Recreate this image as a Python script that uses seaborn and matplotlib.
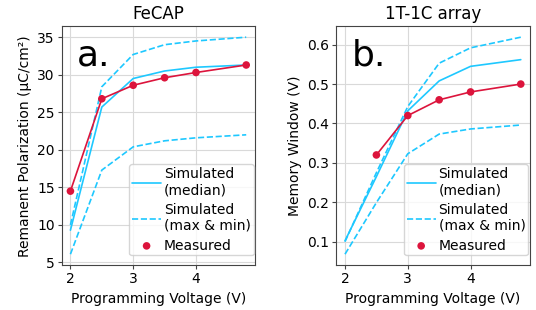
import numpy as np
import pandas as pd
import seaborn as sns
import matplotlib.pyplot as plt

# programming voltages
volts = [2, 2.5, 3, 3.5, 4, 4.8]

# FeCAP remanent polarization (uC/cm2)
fecap_median = [9.3, 25.7, 29.5, 30.5, 31.0, 31.3]
fecap_max = [10.0, 28.4, 32.7, 34.0, 34.5, 35.0]
fecap_min = [6.1, 17.3, 20.4, 21.2, 21.6, 22.0]
fecap_meas = [14.5, 26.8, 28.6, 29.6, 30.3, 31.3]

# 1T-1C memory window (V)
arr_median = [0.102, 0.265, 0.432, 0.508, 0.545, 0.562]
arr_max = [0.100, 0.275, 0.443, 0.553, 0.592, 0.619]
arr_min = [0.068, 0.199, 0.323, 0.373, 0.386, 0.396]
arr_volts_meas = [2.5, 3, 3.5, 4, 4.8]
arr_meas = [0.32, 0.42, 0.46, 0.48, 0.50]

cyan = '#1ec8ff'
red = '#dc143c'

sns.set_style('whitegrid', {'axes.edgecolor': '#444444', 'grid.color': '#d9d9d9',
                            'xtick.bottom': True, 'ytick.left': True,
                            'text.color': 'black', 'axes.labelcolor': 'black',
                            'xtick.color': 'black', 'ytick.color': 'black'})
plt.rcParams['font.family'] = ['DejaVu Sans']

fig, axes = plt.subplots(1, 2, figsize=(5.36, 3.10), dpi=100)


def draw_panel(ax, med, mx, mn, vm, meas, title, letter, ylab):
    sns.lineplot(x=volts, y=med, ax=ax, color=cyan, lw=1.2, label='Simulated\n(median)')
    sns.lineplot(x=volts, y=mx, ax=ax, color=cyan, lw=1.2, linestyle='--',
                 label='Simulated\n(max & min)')
    sns.lineplot(x=volts, y=mn, ax=ax, color=cyan, lw=1.2, linestyle='--')
    sns.lineplot(x=vm, y=meas, ax=ax, color=red, lw=1.2)
    sns.scatterplot(x=vm, y=meas, ax=ax, color=red, s=30, edgecolor='none',
                    label='Measured', zorder=5)
    ax.set_title(title, fontsize=12, pad=5)
    ax.set_xlabel('Programming Voltage (V)', fontsize=10)
    ax.set_ylabel(ylab, fontsize=10)
    ax.set_xticks([2, 3, 4])
    ax.tick_params(labelsize=10, length=3, width=0.8, color='#444444', pad=2)
    for s in ax.spines.values():
        s.set_linewidth(0.8)
    ax.text(0.08, 0.95, letter, transform=ax.transAxes, fontsize=26,
            va='top', ha='left')
    ax.legend(loc='lower right', bbox_to_anchor=(1.0, 0.035), fontsize=10,
              handlelength=2.1, borderaxespad=0.1, labelspacing=0.4,
              handletextpad=0.2, borderpad=0.2)


draw_panel(axes[0], fecap_median, fecap_max, fecap_min, volts, fecap_meas,
           'FeCAP', 'a.', 'Remanent Polarization (μC/cm²)')
draw_panel(axes[1], arr_median, arr_max, arr_min, arr_volts_meas, arr_meas,
           '1T-1C array', 'b.', 'Memory Window (V)')
axes[1].set_yticks([0.1, 0.2, 0.3, 0.4, 0.5, 0.6])

fig.subplots_adjust(left=0.115, right=0.988, top=0.915, bottom=0.145, wspace=0.42)
fig.savefig('out.png', dpi=100)
